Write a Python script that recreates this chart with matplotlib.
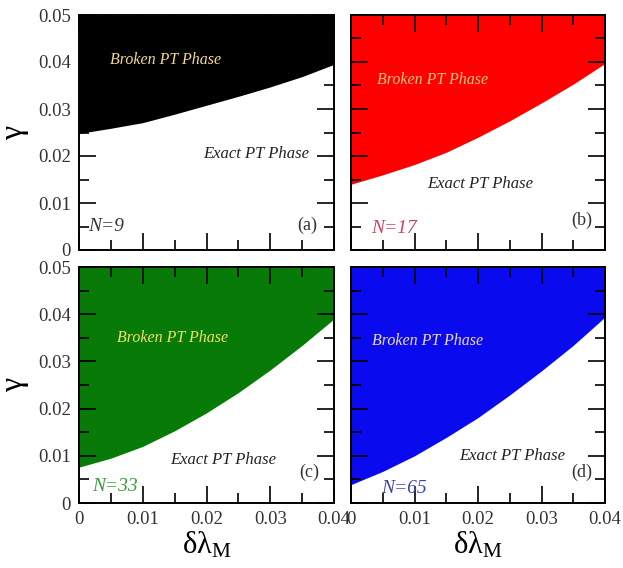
import numpy as np
import matplotlib
matplotlib.use("Agg")
import matplotlib.pyplot as plt
from matplotlib.ticker import MultipleLocator

plt.rcParams['font.family'] = ['Liberation Serif', 'DejaVu Serif']
plt.rcParams['mathtext.fontset'] = 'custom'
plt.rcParams['mathtext.rm'] = 'Liberation Serif'
plt.rcParams['mathtext.it'] = 'Liberation Serif:italic'

# boundary between exact and broken PT phase
dlam = [0.0, 0.005, 0.01, 0.015, 0.02, 0.025, 0.03, 0.035, 0.04]
gamma_n9 = [0.0248, 0.0259, 0.0271, 0.0289, 0.0308, 0.0327, 0.0347, 0.0369, 0.0395]
gamma_n17 = [0.0140, 0.0160, 0.0182, 0.0208, 0.0240, 0.0275, 0.0313, 0.0353, 0.0397]
gamma_n33 = [0.0076, 0.0095, 0.0120, 0.0153, 0.0191, 0.0234, 0.0282, 0.0334, 0.0390]
gamma_n65 = [0.0039, 0.0067, 0.0100, 0.0139, 0.0181, 0.0229, 0.0280, 0.0334, 0.0394]

sizes = ["N=9", "N=17", "N=33", "N=65"]
panel_tags = ["(a)", "(b)", "(c)", "(d)"]
fill_colors = ["black", "#ff0000", "#087a08", "#0a0aee"]
n_colors = ["#333333", "#d0405a", "#3a9a3a", "#3a44a8"]
broken_colors = ["#f3d890", "#f6c47e", "#eee262", "#f0d8c0"]

# text positions in data coords
broken_pos = [(0.0135, 0.0404), (0.0129, 0.0362), (0.0146, 0.0350), (0.0120, 0.0343)]
exact_pos = [(0.0278, 0.0204), (0.0203, 0.0140), (0.0226, 0.0091), (0.0254, 0.0100)]
n_pos = [(0.0015, 0.0049), (0.0031, 0.0045), (0.0020, 0.0036), (0.0047, 0.0030)]
tag_pos = [(0.0358, 0.0053), (0.0364, 0.0064), (0.0361, 0.0064), (0.0364, 0.0064)]

curves = [gamma_n9, gamma_n17, gamma_n33, gamma_n65]

fig = plt.figure(figsize=(6.23, 5.68), dpi=100)
rects = [
    [79/623, 1-250/568, 255/623, 235/568],
    [351/623, 1-250/568, 254/623, 235/568],
    [79/623, 1-503/568, 255/623, 236/568],
    [351/623, 1-503/568, 254/623, 236/568],
]

for i in range(4):
    ax = fig.add_axes(rects[i])
    ax.fill_between(dlam, curves[i], 0.05, color=fill_colors[i], lw=0)
    ax.set_xlim(0, 0.04)
    ax.set_ylim(0, 0.05)
    ax.xaxis.set_major_locator(MultipleLocator(0.01))
    ax.xaxis.set_minor_locator(MultipleLocator(0.005))
    ax.yaxis.set_major_locator(MultipleLocator(0.01))
    ax.yaxis.set_minor_locator(MultipleLocator(0.005))
    ax.tick_params(which='both', direction='in', top=True, right=True, width=1.2)
    ax.tick_params(which='major', length=12, labelsize=13.5, pad=6, labelcolor='#333333')
    ax.tick_params(which='minor', length=7)
    for s in ax.spines.values():
        s.set_linewidth(1.4)
    ax.xaxis.set_major_formatter(plt.FuncFormatter(lambda v, p: "0" if v == 0 else "%.2f" % v))
    ax.yaxis.set_major_formatter(plt.FuncFormatter(lambda v, p: "0" if v == 0 else "%.2f" % v))

    if i in (0, 1):
        ax.tick_params(labelbottom=False)
    else:
        ax.set_xlabel(r"δλ$_{\mathrm{M}}$", fontsize=22, labelpad=1)
    if i in (1, 3):
        ax.tick_params(labelleft=False)
    else:
        ax.set_ylabel("γ", fontsize=23, labelpad=6)

    ax.text(*broken_pos[i], "Broken PT Phase", color=broken_colors[i], fontsize=11.5,
            style='italic', ha='center', va='center')
    ax.text(*exact_pos[i], "Exact PT Phase", color='#222222', fontsize=12,
            style='italic', ha='center', va='center')
    ax.text(*n_pos[i], sizes[i], color=n_colors[i], fontsize=14,
            style='italic', ha='left', va='center')
    ax.text(*tag_pos[i], panel_tags[i], color='#333333', fontsize=13,
            ha='center', va='center')

fig.savefig("out.png", dpi=100)
